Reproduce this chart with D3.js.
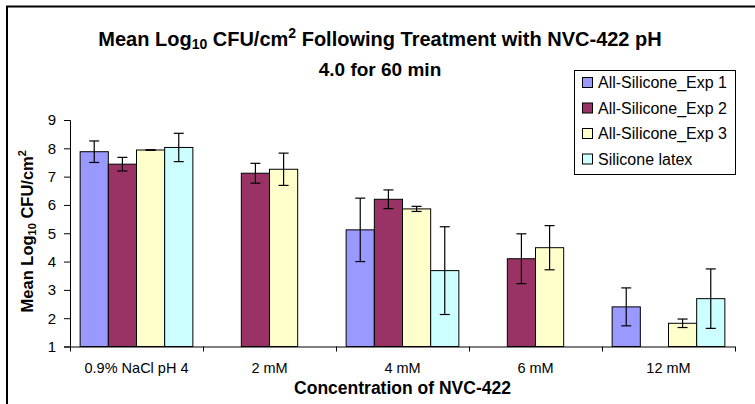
<!DOCTYPE html>
<html>
<head>
<meta charset="utf-8">
<script src="https://cdn.jsdelivr.net/npm/d3@7/dist/d3.min.js"></script>
<style>
  body { margin: 0; background: #fff; }
  svg { display: block; font-family: "Liberation Sans", Arial, sans-serif; }
</style>
</head>
<body>
<div id="chart"></div>
<script>
const categories = ["0.9% NaCl pH 4", "2 mM", "4 mM", "6 mM", "12 mM"];
const seriesNames = ["All-Silicone_Exp 1", "All-Silicone_Exp 2", "All-Silicone_Exp 3", "Silicone latex"];
const seriesColors = ["#9999FF", "#993366", "#FFFFCC", "#CCFFFF"];
// mean values per series (null = not measured)
const exp1Values = [7.88, null, 5.12, null, 2.40];
const exp2Values = [7.44, 7.12, 6.20, 4.10, null];
const exp3Values = [7.94, 7.26, 5.86, 4.49, 1.82];
const latexValues = [8.03, null, 3.68, null, 2.69];
// error bar half-widths
const exp1Errors = [0.38, null, 1.12, null, 0.67];
const exp2Errors = [0.24, 0.35, 0.33, 0.88, null];
const exp3Errors = [0.01, 0.57, 0.09, 0.78, 0.15];
const latexErrors = [0.5, null, 1.55, null, 1.05];
const yTicks = [1, 2, 3, 4, 5, 6, 7, 8, 9];

const allValues = [exp1Values, exp2Values, exp3Values, latexValues];
const allErrors = [exp1Errors, exp2Errors, exp3Errors, latexErrors];

const W = 755, H = 404;
const margin = { top: 120, right: 20, bottom: 57.5, left: 70 };

const svg = d3.select("#chart").append("svg").attr("width", W).attr("height", H);

// outer chart frame (runs off right/bottom edge)
svg.append("rect")
  .attr("x", 7).attr("y", 6.5)
  .attr("width", W + 20).attr("height", H + 20)
  .attr("fill", "none").attr("stroke", "#000").attr("stroke-width", 2);

const xScale = d3.scaleBand().domain(categories).range([margin.left, W - margin.right]);
const inner = d3.scaleBand().domain(seriesNames)
  .range([0, xScale.bandwidth()]).paddingOuter(0.18 * 2);
const yScale = d3.scaleLinear().domain([1, 9]).range([H - margin.bottom, margin.top]);

// bars
const bars = [];
allValues.forEach((vals, s) => {
  vals.forEach((v, c) => {
    if (v !== null) bars.push({ s, c, v, e: allErrors[s][c] });
  });
});

const g = svg.append("g");
g.selectAll("rect.bar").data(bars).enter().append("rect")
  .attr("class", "bar")
  .attr("x", d => xScale(categories[d.c]) + inner(seriesNames[d.s]))
  .attr("y", d => yScale(d.v))
  .attr("width", inner.bandwidth())
  .attr("height", d => yScale(1) - yScale(d.v))
  .attr("fill", d => seriesColors[d.s])
  .attr("stroke", "#000").attr("stroke-width", 1);

// error bars
const eb = g.selectAll("g.err").data(bars).enter().append("g").attr("class", "err")
  .attr("stroke", "#000").attr("stroke-width", 1.2);
const cx = d => xScale(categories[d.c]) + inner(seriesNames[d.s]) + inner.bandwidth() / 2;
eb.append("line")
  .attr("x1", cx).attr("x2", cx)
  .attr("y1", d => yScale(d.v + d.e)).attr("y2", d => yScale(d.v - d.e));
eb.append("line")
  .attr("x1", d => cx(d) - 5).attr("x2", d => cx(d) + 5)
  .attr("y1", d => yScale(d.v + d.e)).attr("y2", d => yScale(d.v + d.e));
eb.append("line")
  .attr("x1", d => cx(d) - 5).attr("x2", d => cx(d) + 5)
  .attr("y1", d => yScale(d.v - d.e)).attr("y2", d => yScale(d.v - d.e));

// y axis
const yAxis = svg.append("g")
  .attr("transform", `translate(${margin.left},0)`)
  .call(d3.axisLeft(yScale).tickValues(yTicks).tickSize(6).tickPadding(8));
yAxis.select(".domain").attr("stroke", "#000");
yAxis.selectAll("text").attr("font-size", 15).attr("fill", "#000")
  .attr("font-family", "Liberation Sans, Arial, sans-serif");

// x axis: line with ticks at category boundaries
const xAxisG = svg.append("g");
xAxisG.append("line")
  .attr("x1", margin.left).attr("x2", W - margin.right)
  .attr("y1", yScale(1) + 0.5).attr("y2", yScale(1) + 0.5)
  .attr("stroke", "#000");
const boundaries = categories.map(c => xScale(c)).concat([xScale(categories[categories.length - 1]) + xScale.bandwidth()]);
xAxisG.selectAll("line.tick").data(boundaries).enter().append("line")
  .attr("class", "tick")
  .attr("x1", d => d + 0.5).attr("x2", d => d + 0.5)
  .attr("y1", yScale(1)).attr("y2", yScale(1) + 5)
  .attr("stroke", "#000");
xAxisG.selectAll("text").data(categories).enter().append("text")
  .attr("x", d => xScale(d) + xScale.bandwidth() / 2)
  .attr("y", 373)
  .attr("text-anchor", "middle")
  .attr("font-size", 14.5)
  .text(d => d);

// axis titles
svg.append("text")
  .attr("x", (margin.left + W - margin.right) / 2)
  .attr("y", 394)
  .attr("text-anchor", "middle")
  .attr("font-size", 17.5).attr("font-weight", "bold")
  .text("Concentration of NVC-422");

const yt = svg.append("text")
  .attr("transform", `translate(33,${(yScale(1) + yScale(9)) / 2 - 2}) rotate(-90)`)
  .attr("text-anchor", "middle")
  .attr("font-size", 16.5).attr("font-weight", "bold");
yt.append("tspan").text("Mean Log");
yt.append("tspan").attr("font-size", 11).attr("dy", 3).text("10");
yt.append("tspan").attr("dy", -3).text(" CFU/cm");
yt.append("tspan").attr("font-size", 11).attr("dy", -7).text("2");

// title
const t1 = svg.append("text")
  .attr("x", 380).attr("y", 46)
  .attr("text-anchor", "middle")
  .attr("font-size", 20).attr("font-weight", "bold");
t1.append("tspan").text("Mean Log");
t1.append("tspan").attr("font-size", 14).attr("dy", 3).text("10");
t1.append("tspan").attr("dy", -3).text(" CFU/cm");
t1.append("tspan").attr("font-size", 14).attr("dy", -8).text("2");
t1.append("tspan").attr("dy", 8).text(" Following Treatment with NVC-422 pH");
svg.append("text")
  .attr("x", 380).attr("y", 76)
  .attr("text-anchor", "middle")
  .attr("font-size", 19).attr("font-weight", "bold")
  .text("4.0 for 60 min");

// legend
const leg = svg.append("g").attr("transform", "translate(574,70)");
leg.append("rect").attr("x", 0.5).attr("y", 0.5).attr("width", 161).attr("height", 104)
  .attr("fill", "#fff").attr("stroke", "#000");
const items = leg.selectAll("g.item").data(seriesNames).enter().append("g")
  .attr("transform", (d, i) => `translate(8,${12 + i * 25.5})`);
items.append("rect").attr("x", 0.5).attr("y", -4.5).attr("width", 10).attr("height", 10)
  .attr("fill", (d, i) => seriesColors[i]).attr("stroke", "#000");
items.append("text").attr("x", 16).attr("y", 6)
  .attr("font-size", 16).text(d => d);
</script>
</body>
</html>
